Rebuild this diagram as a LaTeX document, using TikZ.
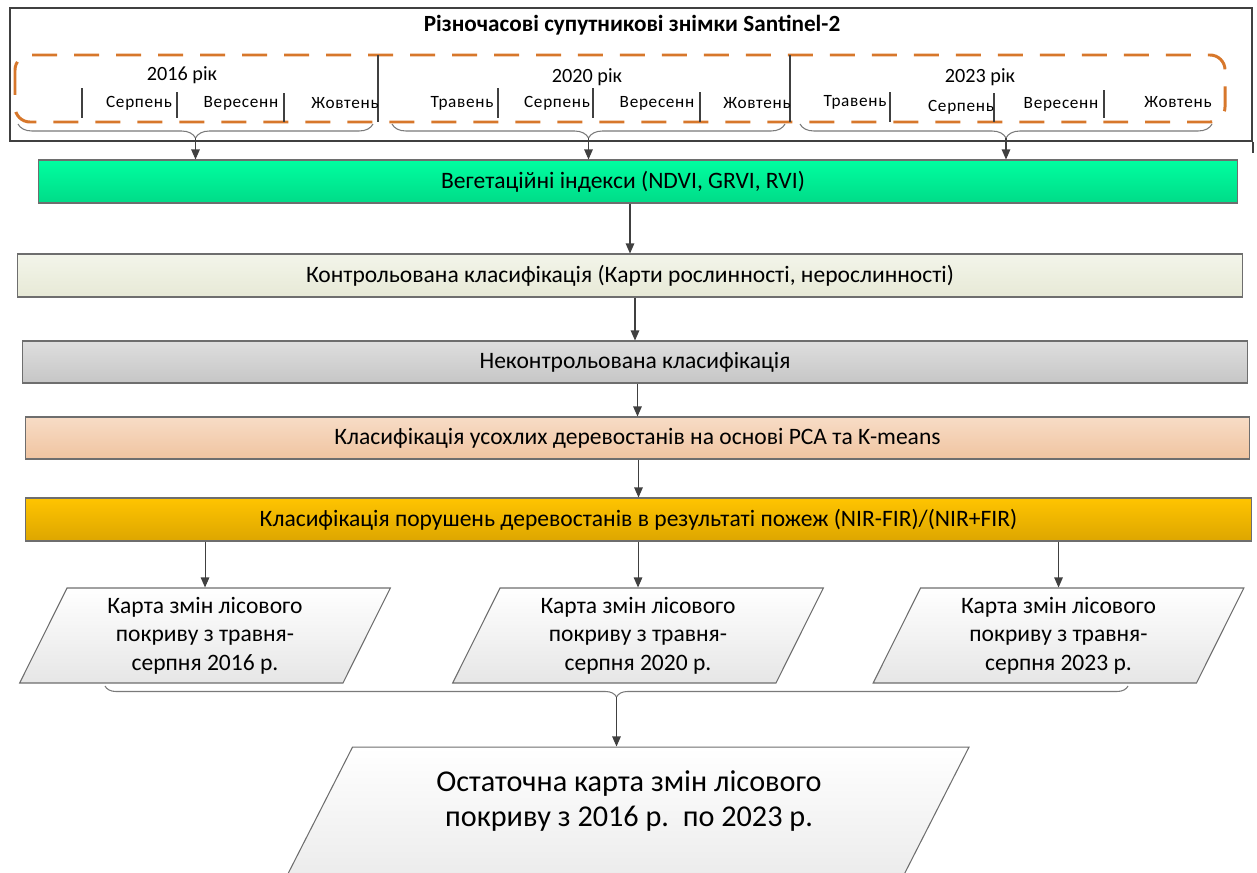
\documentclass[tikz,border=0pt]{standalone}
\usepackage{fontspec}
\setmainfont{Carlito}
\newfontfamily\monthfont[LetterSpace=4]{Carlito}
\usetikzlibrary{arrows.meta}
\usetikzlibrary{shapes.geometric}
\usetikzlibrary{decorations.pathreplacing}
\definecolor{dashorange}{HTML}{D7772B}
\definecolor{framegray}{HTML}{404040}
\definecolor{boxgray}{HTML}{6E6E6E}
\definecolor{linkgray}{HTML}{404040}
\definecolor{bracegray}{HTML}{7A7A7A}
\definecolor{vegtop}{HTML}{00FFA0}
\definecolor{vegbot}{HTML}{00DB88}
\definecolor{ctrltop}{HTML}{F3F5EA}
\definecolor{ctrlbot}{HTML}{E7E9D6}
\definecolor{uncltop}{HTML}{DEDEDE}
\definecolor{unclbot}{HTML}{C6C6C6}
\definecolor{pcatop}{HTML}{F7DCC6}
\definecolor{pcabot}{HTML}{F0C4A0}
\definecolor{firetop}{HTML}{FFC400}
\definecolor{firebot}{HTML}{DDA600}
\definecolor{mapgray}{HTML}{E6E6E6}
\newcommand{\mapbox}[1]{\parbox[c][1.9cm][c]{5.52cm}{\centering #1}}
\newcommand{\finalbox}[1]{\parbox[c][3.36cm][t]{10.62cm}{\centering\vspace*{0.48cm}#1}}

\begin{document}
\begin{tikzpicture}[x=0.02cm,y=-0.02cm,>={Triangle[length=0.2cm,width=0.17cm]},
    frame box/.style={rectangle,draw=framegray,line width=1.2pt,minimum width=24.84cm,minimum height=2.66cm,inner sep=0pt},
    frame edge/.style={draw=framegray,line width=1.2pt},
    title/.style={font=\bfseries\fontsize{13.2}{15}\selectfont,inner sep=1pt},
    year dash/.style={draw=dashorange,line width=1.7pt,dash pattern=on 0.5cm off 0.34cm,rounded corners=0.3cm},
    year sep/.style={draw=framegray,line width=1pt},
    month tick/.style={draw=framegray,line width=1pt},
    year/.style={font=\fontsize{11.5}{13}\selectfont,inner sep=1pt},
    month/.style={font=\monthfont\fontsize{9.8}{11}\selectfont,inner sep=1pt},
    year brace/.style={decorate,decoration={brace,amplitude=0.28cm,mirror},draw=bracegray,line width=0.6pt},
    flow box/.style={rectangle,draw=boxgray,line width=0.6pt,minimum height=0.86cm,font=\fontsize{13.4}{16}\selectfont},
    map node/.style={trapezium,trapezium left angle=63.5,trapezium right angle=116.5,
      draw=boxgray,line width=0.6pt,top color=white,bottom color=mapgray,
      inner sep=0pt,font=\fontsize{13.4}{16.2}\selectfont},
    final node/.style={trapezium,trapezium left angle=63,trapezium right angle=117,
      draw=boxgray,line width=0.6pt,top color=white,bottom color=mapgray,
      inner sep=0pt,font=\fontsize{17.2}{19.5}\selectfont},
    link/.style={->,draw=linkgray,line width=0.6pt}]
  \useasboundingbox (0,0) rectangle (1257,872);
  \clip (0,0) rectangle (1257,872);

  % images block
  \node[frame box] (frame) at (631,74.5) {};
  \draw[frame edge] (frame.south east) -- ++(0,11);
  \node[title] (title) at (632,25) {Різночасові супутникові знімки Santinel-2};
  \draw[year dash] (15,55) rectangle (1225,122);
  \draw[year sep] (378,55) -- (378,122);
  \draw[year sep] (790,55) -- (790,122);
  \foreach \x/\a/\b in {82/88/118,177/92/118,284/93/122,498/88/118,593/88/118,700/92/122,890/92/122,994/93/122,1104/90/118}
    \draw[month tick] (\x,\a) -- (\x,\b);
  \node[year] (y2016) at (182,75) {2016 рік};
  \node[year] (y2020) at (587,77) {2020 рік};
  \node[year] (y2023) at (980,77) {2023 рік};
  \foreach \x/\y/\t [count=\i] in {139/103/Серпень,241/103/Вересенн,345/103/Жовтень,
      462/103/Травень,557/103/Серпень,657/103/Вересенн,757/103/Жовтень,
      855/102/Травень,961/107/Серпень,1061/104/Вересенн,1178/102/Жовтень}
    \node[month] (m\i) at (\x,\y) {\t};

  \draw[year brace] (18,124) -- (373,124);
  \draw[year brace] (392,124) -- (785,124);
  \draw[year brace] (800,124) -- (1212,124);
  \coordinate (b2016) at (195.5,138);
  \coordinate (b2020) at (588.5,138);
  \coordinate (b2023) at (1006,138);

  % processing steps
  \node[flow box,top color=vegtop,bottom color=vegbot,minimum width=24cm] (veg) at (638,181.5) {Вегетаційні індекси (NDVI, GRVI, RVI)\hspace*{0.6cm}};
  \node[flow box,top color=ctrltop,bottom color=ctrlbot,minimum width=24.52cm] (ctrl) at (630,275.5) {Контрольована класифікація (Карти рослинності, нерослинності)};
  \node[flow box,top color=uncltop,bottom color=unclbot,minimum width=24.52cm,minimum height=0.84cm] (uncl) at (635,362) {Неконтрольована класифікація};
  \node[flow box,top color=pcatop,bottom color=pcabot,minimum width=24.5cm,minimum height=0.84cm] (pca) at (637.5,438) {Класифікація усохлих деревостанів на основі PCA та K-means};
  \node[flow box,top color=firetop,bottom color=firebot,minimum width=24.54cm] (fire) at (638.5,519.5) {Класифікація порушень деревостанів в результаті пожеж (NIR-FIR)/(NIR+FIR)};

  \draw[link] (b2016) -- (b2016 |- veg.north);
  \draw[link] (b2020) -- (b2020 |- veg.north);
  \draw[link] (b2023) -- (b2023 |- veg.north);
  \draw[link] (veg.south -| ctrl.north) -- (ctrl.north);
  \draw[link] (ctrl.south -| uncl.north) -- (uncl.north);
  \draw[link] (uncl.south -| pca.north) -- (pca.north);
  \draw[link] (pca.south -| fire.north) -- (fire.north);

  % change maps
  \node[map node] (map2016) at (205,635.5) {\mapbox{Карта змін лісового\\покриву з травня-\\серпня 2016 р.}};
  \node[map node] (map2020) at (638,635.5) {\mapbox{Карта змін лісового\\покриву з травня-\\серпня 2020 р.}};
  \node[map node] (map2023) at (1058.5,635.5) {\mapbox{Карта змін лісового\\покриву з травня-\\серпня 2023 р.}};
  \draw[link] (fire.south -| map2016.north) -- (map2016.north);
  \draw[link] (fire.south -| map2020.north) -- (map2020.north);
  \draw[link] (fire.south -| map2023.north) -- (map2023.north);

  \draw[year brace,decoration={amplitude=0.22cm}] (105,686) -- (1128,686);
  \coordinate (bmaps) at (616.5,697);

  % final map
  \node[final node] (final) at (618,831) {\finalbox{\hspace*{0.44cm}Остаточна карта змін лісового\\\hspace*{0.44cm}покриву з 2016 р.\ \ по 2023 р.}};
  \draw[link] (bmaps) -- (bmaps |- final.north);
\end{tikzpicture}
\end{document}
